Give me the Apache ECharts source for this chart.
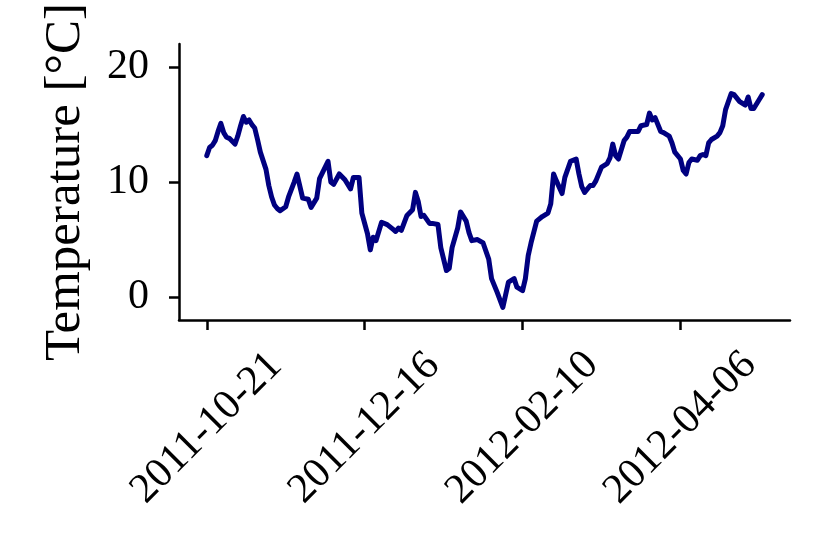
<!DOCTYPE html>
<html><head><meta charset="utf-8">
<script src="https://cdn.jsdelivr.net/npm/echarts@6/dist/echarts.min.js"></script>
<style>html,body{margin:0;padding:0;background:#fff}#c{width:830px;height:554px}</style>
</head><body><div id="c"></div>
<script>
const START_DATE = '2011-10-21';
const dayOffsets = [0,1,2,3,4,5,6,7,8,10,11,12,13,14,15,16,17,18,19,21,22,23,24,25,26,28,29,31,32,34,36,37,39,40,43,44,45,47,49,51,52,54,55,57,58,59,60,62,64,66,67,68,69,71,73,74,75,76,77,79,80,82,83,85,86,87,89,90,92,93,94,96,98,100,101,103,105,107,109,110,112,113,114,115,117,119,121,122,123,124,126,127,129,131,132,133,134,136,137,138,140,142,143,144,145,146,148,149,150,152,153,154,156,157,158,159,161,162,164,165,166,168,169,170,171,172,174,175,176,177,178,179,181,182,183,184,186,187,189,191,192,193,194,196,197];
const temperatures = [12.3,13.0,13.2,13.6,14.4,15.1,14.3,13.9,13.8,13.3,14.0,14.9,15.7,15.2,15.4,15.0,14.7,13.7,12.6,11.1,9.7,8.7,8.0,7.7,7.5,7.85,8.7,10.0,10.7,8.6,8.5,7.8,8.6,10.3,11.8,10.0,9.8,10.7,10.2,9.4,10.4,10.4,7.3,5.5,4.1,5.2,4.9,6.5,6.3,5.9,5.7,6.0,5.8,7.1,7.6,9.1,8.3,7.0,7.1,6.4,6.4,6.3,4.3,2.3,2.5,4.3,6.0,7.4,6.6,5.6,4.9,5.0,4.7,3.3,1.6,0.4,-0.9,1.3,1.6,0.85,0.55,1.6,3.6,4.7,6.6,7.0,7.3,8.1,10.7,10.1,9.0,10.4,11.8,12.0,10.7,9.6,9.1,9.7,9.7,10.1,11.3,11.6,12.1,13.3,12.3,12.0,13.6,13.9,14.4,14.4,14.4,14.9,15.0,16.0,15.4,15.6,14.4,14.3,14.0,13.4,12.6,12.0,11.0,10.7,11.7,12.0,11.9,12.3,12.4,12.3,13.4,13.7,14.0,14.3,14.9,16.3,17.7,17.6,17.0,16.7,17.4,16.4,16.4,17.2,17.6];
const xTickDates = ['2011-10-21','2011-12-16','2012-02-10','2012-04-06'];
const yTicks = [0, 10, 20];
const yLabel = 'Temperature [°C]';

const DAY = 86400000;
function ts(s){const p=s.split('-').map(Number);return Date.UTC(p[0],p[1]-1,p[2]);}
function pad(n){return (n<10?'0':'')+n;}
function fmt(t){const d=new Date(Math.round(t/DAY)*DAY);return d.getUTCFullYear()+'-'+pad(d.getUTCMonth()+1)+'-'+pad(d.getUTCDate());}
const t0 = ts(START_DATE);
const seriesData = dayOffsets.map((d,i)=>[t0+d*DAY, temperatures[i]]);
const span = dayOffsets[dayOffsets.length-1]-dayOffsets[0];
const xMin = t0 + (dayOffsets[0]-0.05*span)*DAY;
const xMax = t0 + (dayOffsets[dayOffsets.length-1]+0.05*span)*DAY;
const xTicks = xTickDates.map(ts);

const FONT = '"Liberation Serif", "DejaVu Serif", serif';
const chart = echarts.init(document.getElementById('c'));
chart.setOption({
  animation: false,
  backgroundColor: '#ffffff',
  grid: {left: 179, right: 40, top: 40, bottom: 234, containLabel: false},
  xAxis: {
    type: 'value', min: xMin, max: xMax,
    splitLine: {show: false},
    axisLine: {show: true, onZero: false, lineStyle: {color: '#000', width: 2.5}},
    axisTick: {show: true, length: 10, lineStyle: {color: '#000', width: 2.5}, customValues: xTicks},
    axisLabel: {
      customValues: xTicks, rotate: 45, align: 'center', verticalAlign: 'middle',
      margin: 108, fontFamily: FONT, fontSize: 42, color: '#000',
      formatter: v => fmt(v)
    }
  },
  yAxis: {
    type: 'value', min: -2, max: 22,
    splitLine: {show: false},
    axisLine: {show: true, onZero: false, lineStyle: {color: '#000', width: 2.5}},
    axisTick: {show: true, length: 10, lineStyle: {color: '#000', width: 2.5}, customValues: yTicks},
    axisLabel: {customValues: yTicks, margin: 30, fontFamily: FONT, fontSize: 42, color: '#000'},
    name: yLabel, nameLocation: 'middle', nameGap: 88,
    nameTextStyle: {fontFamily: FONT, fontSize: 51, color: '#000'}
  },
  series: [{
    type: 'line', data: seriesData, showSymbol: false, symbol: 'none',
    lineStyle: {color: '#000080', width: 5, join: 'round', cap: 'round'},
    itemStyle: {color: '#000080'}
  }]
});
</script></body></html>
